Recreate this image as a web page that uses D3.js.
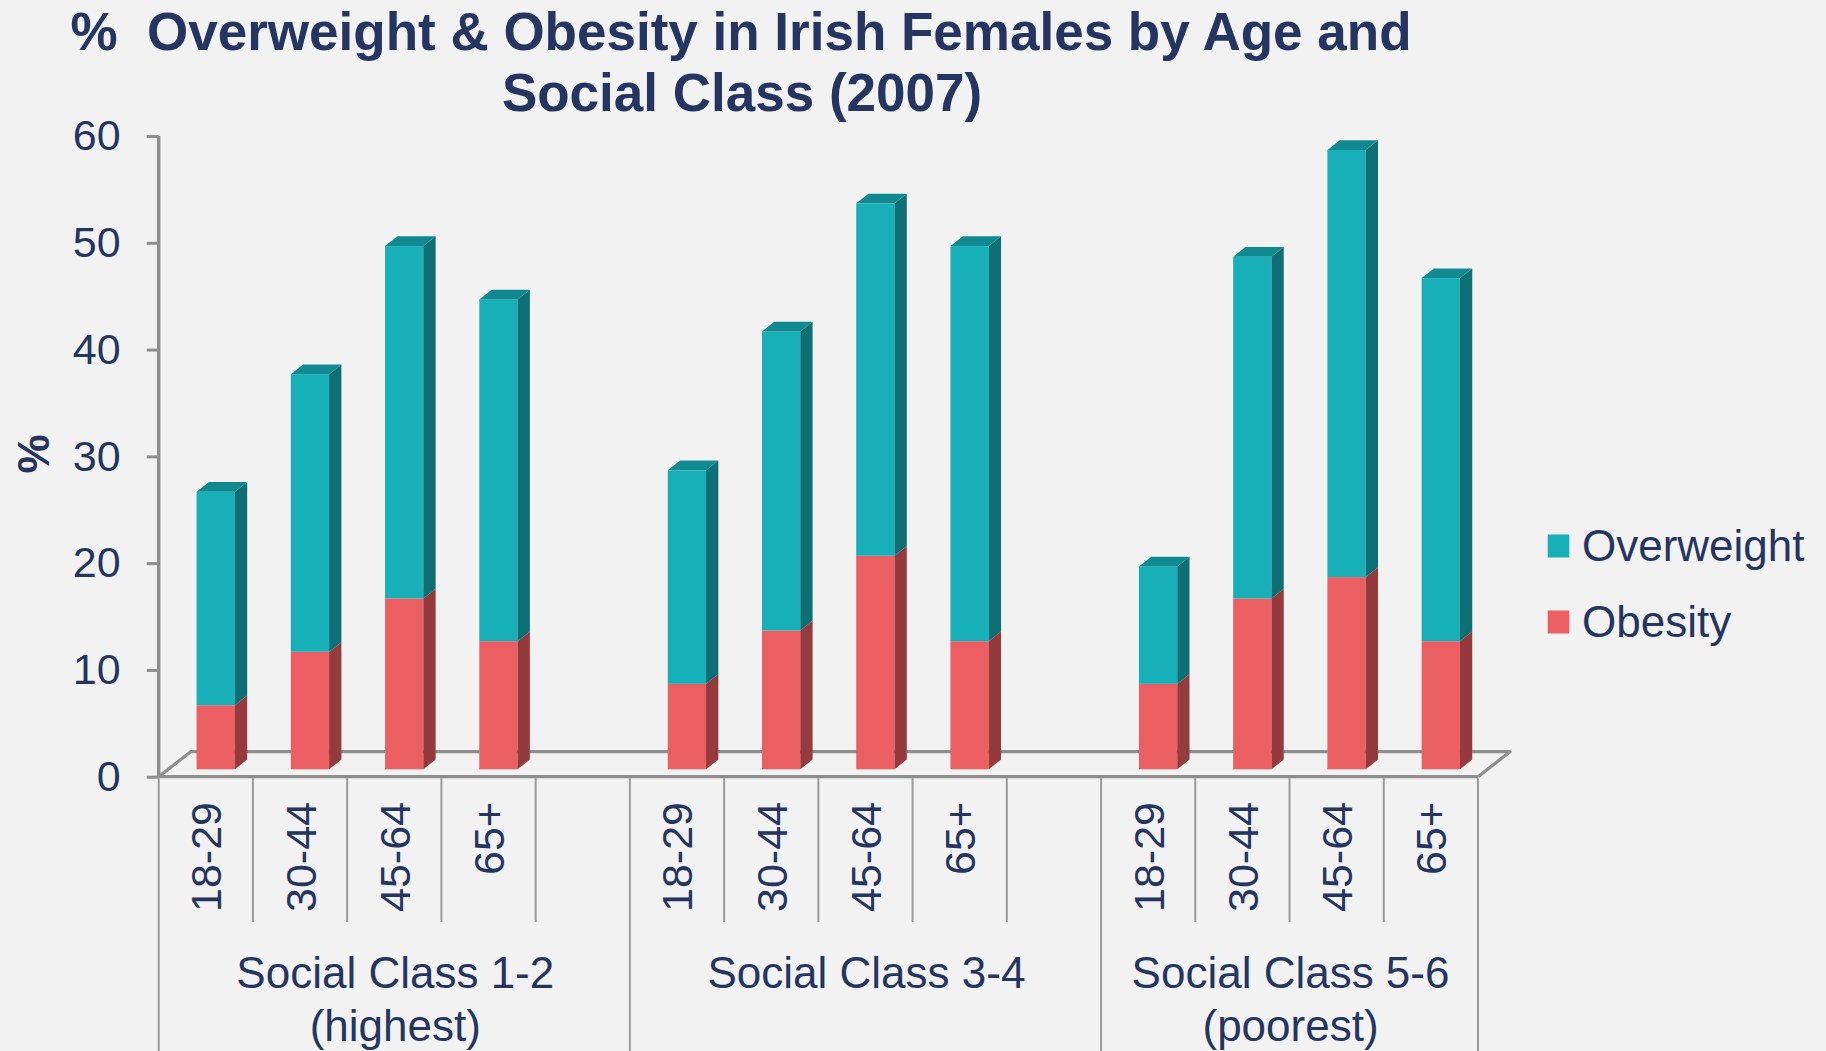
<!DOCTYPE html>
<html>
<head>
<meta charset="utf-8">
<script src="https://cdn.jsdelivr.net/npm/d3@7"></script>
<style>
  html, body { margin: 0; padding: 0; background: #F2F2F2; }
  svg { display: block; }
  text { font-family: "Liberation Sans", Arial, sans-serif; fill: #253561; }
</style>
</head>
<body>
<svg id="chart" width="1826" height="1051"></svg>
<script>
// ---- data ----
const groupLabels = [["Social Class 1-2", "(highest)"], ["Social Class 3-4"], ["Social Class 5-6", "(poorest)"]];
const ageLabels = ["18-29", "30-44", "45-64", "65+"];
const seriesNames = ["Overweight", "Obesity"];
// values in order: group 1 (4 ages), group 2, group 3
const obesity =    [6, 11, 16, 12,   8, 13, 20, 12,   8, 16, 18, 12];
const overweight = [20, 26, 33, 32,  20, 28, 33, 37,  11, 32, 40, 34];
const yTicks = [0, 10, 20, 30, 40, 50, 60];

// ---- layout ----
const W = 1826, H = 1051;
const svg = d3.select("#chart");
svg.append("rect").attr("width", W).attr("height", H).attr("fill", "#F2F2F2");

const colors = {
  owFront: "#17B0B8", owSide: "#0E6F74", owTop: "#108A90",
  obFront: "#EB5F62", obSide: "#953B3D", obTop: "#B84A4D"
};
const axisGray = "#8E8E8E";

// slots: 4 ages + blank per group, no blank after last group
const slots = [];
groupLabels.forEach((g, gi) => {
  ageLabels.forEach((a, ai) => slots.push({ key: gi + "|" + a, group: gi, age: a, idx: gi * 4 + ai }));
  if (gi < groupLabels.length - 1) slots.push({ key: gi + "|blank", group: gi, age: null });
});

const x = d3.scaleBand().domain(slots.map(s => s.key)).range([158.7, 1478]).padding(0);
const y = d3.scaleLinear().domain([0, 60]).range([776.7, 136]);

// 3D offsets
const floorDx = 32, floorDy = -25;
const barOffX = 9.9, barOffY = -7.4;
const barW = 38.3, depthX = 12.3, depthY = -9.7;

// ---- title ----
const title = svg.append("text").attr("text-anchor", "middle")
  .style("font-weight", "bold").style("font-size", "53px").style("white-space", "pre");
title.append("tspan").attr("x", 741).attr("y", 50).text("%  Overweight & Obesity in Irish Females by Age and");
title.append("tspan").attr("x", 742).attr("y", 111).text("Social Class (2007)");

// ---- floor ----
const x0 = x.range()[0], x1 = x.range()[1], yf = y(0);
const floor = svg.append("g").attr("fill", "none").attr("stroke", axisGray).attr("stroke-width", 3.2)
  .attr("stroke-linejoin", "round");
floor.append("path").attr("d",
  `M${x0},${yf} L${x0 + floorDx},${yf + floorDy} L${x1 + floorDx},${yf + floorDy} L${x1},${yf}`);
floor.append("line").attr("x1", x0).attr("x2", x1).attr("y1", yf).attr("y2", yf);

// ---- y axis ----
const yAxis = d3.axisLeft(y).tickValues(yTicks).tickSize(12).tickPadding(26).tickFormat(d3.format("d"));
const ya = svg.append("g").attr("transform", `translate(${x0},0)`).call(yAxis);
ya.select(".domain").attr("stroke", axisGray).attr("stroke-width", 3.5)
  .attr("d", `M0,${y(60)}V${y(0)}`);
ya.selectAll(".tick line").attr("stroke", axisGray).attr("stroke-width", 3);
ya.selectAll(".tick text").style("font-size", "43px").attr("fill", "#253561")
  .style("font-family", '"Liberation Sans", Arial, sans-serif');

svg.append("text").attr("transform", "translate(33.5,454) rotate(-90)")
  .attr("text-anchor", "middle").attr("dy", "0.36em")
  .style("font-weight", "bold").style("font-size", "44px").text("%");

// ---- category axis ----
const cat = svg.append("g").attr("stroke", "#9A9A9A").attr("stroke-width", 2);
slots.forEach((s, i) => {
  const xl = x(s.key);
  const isGroupStart = i === 0 || slots[i - 1].group !== s.group;
  cat.append("line").attr("x1", xl).attr("x2", xl).attr("y1", yf + 1.5).attr("y2", isGroupStart ? H : 922);
});
cat.append("line").attr("x1", x1).attr("x2", x1).attr("y1", yf + 1.5).attr("y2", H);

slots.filter(s => s.age).forEach(s => {
  const cx = x(s.key) + x.bandwidth() / 2;
  svg.append("text").attr("transform", `translate(${cx},802) rotate(-90)`)
    .attr("text-anchor", "end").attr("dy", "0.36em").style("font-size", "43px").text(s.age);
});

groupLabels.forEach((lines, gi) => {
  const gs = slots.filter(s => s.group === gi && s.age);
  const start = x(gs[0].key);
  const endSlot = slots.filter(s => s.group === gi);
  const end = x(endSlot[endSlot.length - 1].key) + x.bandwidth();
  const cx = (start + end) / 2 + 1;
  const t = svg.append("text").attr("text-anchor", "middle").style("font-size", "44px");
  lines.forEach((ln, li) => t.append("tspan").attr("x", cx).attr("y", 988 + li * 52.5).text(ln));
});

// ---- bars ----
const bars = svg.append("g");
function prism(g, xl, yTop, yBot, front, side, top, drawTop) {
  const xr = xl + barW;
  g.append("rect").attr("x", xl).attr("y", yTop).attr("width", barW).attr("height", yBot - yTop).attr("fill", front);
  g.append("path").attr("d",
    `M${xr},${yBot} L${xr + depthX},${yBot + depthY} L${xr + depthX},${yTop + depthY} L${xr},${yTop} Z`).attr("fill", side);
  if (drawTop) {
    g.append("path").attr("d",
      `M${xl},${yTop} L${xl + depthX},${yTop + depthY} L${xr + depthX},${yTop + depthY} L${xr},${yTop} Z`).attr("fill", top);
  }
}
slots.filter(s => s.age).forEach(s => {
  const i = s.idx;
  const cx = x(s.key) + x.bandwidth() / 2;
  const xl = cx + barOffX - barW / 2;
  const yb = v => y(v) + barOffY;
  const g = bars.append("g");
  prism(g, xl, yb(obesity[i]), yb(0), colors.obFront, colors.obSide, colors.obTop, false);
  prism(g, xl, yb(obesity[i] + overweight[i]), yb(obesity[i]), colors.owFront, colors.owSide, colors.owTop, true);
});

// ---- legend ----
const legendItems = [
  { name: seriesNames[0], color: colors.owFront, cy: 546 },
  { name: seriesNames[1], color: colors.obFront, cy: 622 }
];
const lg = svg.append("g");
legendItems.forEach(d => {
  lg.append("rect").attr("x", 1547.7).attr("y", d.cy - 11.5).attr("width", 21.6).attr("height", 23).attr("fill", d.color);
  lg.append("text").attr("x", 1582).attr("y", d.cy + 15).style("font-size", "44px").text(d.name);
});
</script>
</body>
</html>
